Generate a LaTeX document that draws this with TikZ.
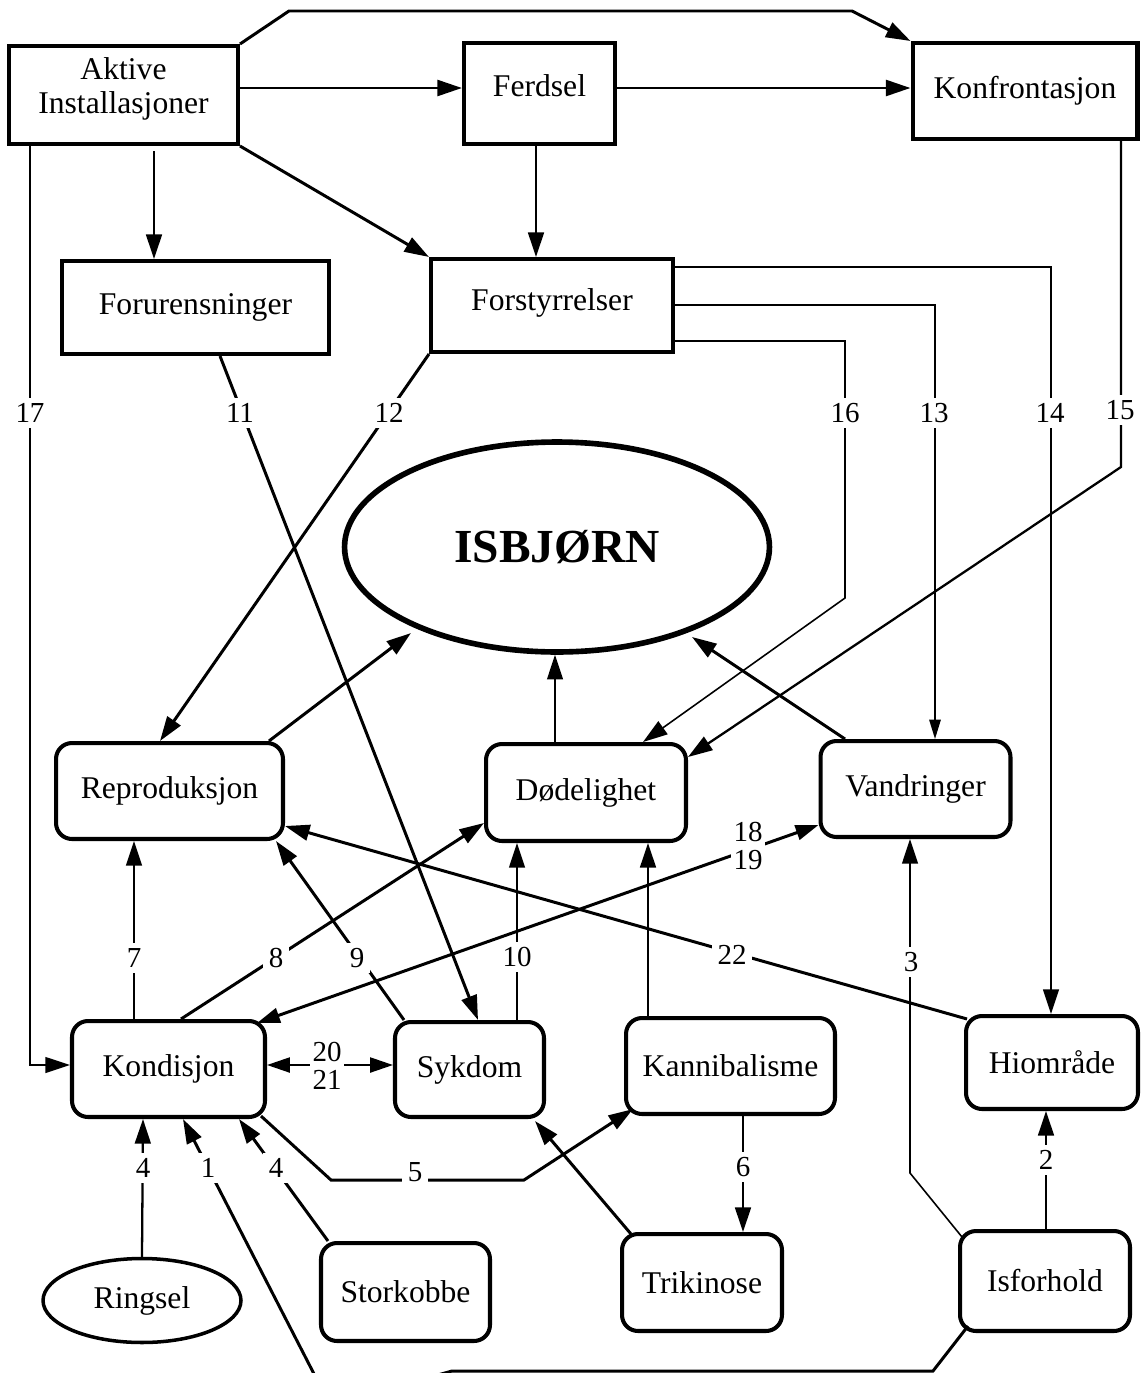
\documentclass[tikz,border=0pt]{standalone}
\usepackage{fontspec}
\setmainfont{Liberation Serif}
\usetikzlibrary{arrows.meta,calc,shapes.geometric}

\begin{document}
\begin{tikzpicture}[x=0.02cm,y=-0.02cm,
  box/.style={draw,line width=2.3pt,inner sep=2pt,align=center,
              font=\fontsize{18}{19}\selectfont},
  rbox/.style={box,rounded corners=0.32cm},
  thk/.style={line width=1.7pt},
  med/.style={line width=1.3pt},
  thn/.style={line width=0.9pt},
  arr/.style={-{Triangle[length=14pt,width=9pt]}},
  sarr/.style={-{Triangle[length=11pt,width=6.5pt]}},
  darr/.style={{Triangle[length=13pt,width=8.5pt]}-{Triangle[length=13pt,width=8.5pt]}},
  lbl/.style={fill=white,inner sep=3pt,align=center,
              font=\fontsize{16.5}{16}\selectfont},
  pair/.style={fill=white,inner sep=1.5pt,align=center,
              font=\fontsize{16.5}{16}\selectfont},
]
\useasboundingbox (0,0) rectangle (1142,1373);
\clip (0,0) rectangle (1142,1373);

% ---- upper row: sources of disturbance
\node[box,minimum width=4.58cm,minimum height=1.96cm,text depth=0.38cm] (akt) at (123.5,95) {Aktive\\Installasjoner};
\node[box,minimum width=3.02cm,minimum height=2.02cm,text depth=0.3cm] (ferd) at (539.5,93.5) {Ferdsel};
\node[box,minimum width=4.5cm,minimum height=1.92cm] (konf) at (1025,91) {Konfrontasjon};
\node[box,minimum width=5.34cm,minimum height=1.86cm] (foru) at (195.5,307.5) {Forurensninger};
\node[box,minimum width=4.84cm,minimum height=1.86cm,text depth=0.25cm] (fors) at (552,305.5) {Forstyrrelser};

% ---- the population
\node[draw,ellipse,line width=3.2pt,inner sep=0pt,minimum width=8.5cm,minimum height=4.2cm,
      font=\fontsize{27}{30}\selectfont\bfseries] (isb) at (557,547) {ISBJØRN};

% ---- population parameters
\node[rbox,minimum width=4.54cm,minimum height=1.92cm] (repr) at (169.5,791) {Reproduksjon};
\node[rbox,minimum width=4.0cm,minimum height=1.94cm] (dode) at (586,792.5) {Dødelighet};
\node[rbox,minimum width=3.8cm,minimum height=1.92cm] (vand) at (915.5,789) {Vandringer};

% ---- factors
\node[rbox,minimum width=3.86cm,minimum height=1.92cm] (kond) at (168.5,1069) {Kondisjon};
\node[rbox,minimum width=2.98cm,minimum height=1.9cm] (sykd) at (469.5,1069.5) {Sykdom};
\node[rbox,minimum width=4.18cm,minimum height=1.92cm] (kann) at (730.5,1066) {Kannibalisme};
\node[rbox,minimum width=3.44cm,minimum height=1.86cm] (hiom) at (1052,1062.5) {Hiområde};

% ---- bottom row
\node[draw,ellipse,line width=2pt,inner sep=0pt,minimum width=3.96cm,minimum height=1.68cm,
      font=\fontsize{18}{19}\selectfont] (ring) at (142,1300.5) {Ringsel};
\node[rbox,minimum width=3.38cm,minimum height=1.96cm] (stor) at (405.5,1292) {Storkobbe};
\node[rbox,minimum width=3.2cm,minimum height=1.94cm] (trik) at (702,1282.5) {Trikinose};
\node[rbox,minimum width=3.4cm,minimum height=2.0cm] (isfo) at (1045,1281) {Isforhold};

% ---- top connections
\draw[thk,arr] (akt.east |- 0,88) -- (ferd.west |- 0,88);
\draw[thk,arr] (ferd.east |- 0,88) -- (konf.west |- 0,88);
\draw[thk,arr] (akt.north east) -- (289,11) -- (852,11) -- (konf.north west);
\draw[med,arr,shorten <=3pt] (akt.south -| 154,0) -- (foru.north -| 154,0);
\draw[thk,arr] (akt.south east) -- (fors.north west);
\draw[med,arr] (ferd.south -| 536,0) -- (fors.north -| 536,0);

% ---- numbered links from the disturbances
\draw[thn,arr] (akt.south -| 30,0) -- (30,1065) -- (kond.west |- 0,1065);
\draw[thk,arr] (foru.south -| 220,0) -- (sykd.north -| 478,0);
\draw[thk,arr] (fors.south west) -- (repr.north -| 160,0);
\draw[thn,arr] (fors.east |- 0,341) -- (845,341) -- (845,598) -- (dode.north -| 643,0);
\draw[thn,sarr] (fors.east |- 0,305) -- (935,305) -- (vand.north -| 935,0);
\draw[thn,arr] (fors.east |- 0,267) -- (1051,267) -- (hiom.north -| 1051,0);
\draw[med,arr] (konf.south -| 1121,0) -- (1121,467) -- (dode.east |- 0,757);

% ---- parameters into the population
\draw[thk,arr] (repr.north -| 269,0) -- ($(isb.center)+(-146,86)$);
\draw[thn,arr] (dode.north -| 555,0) -- (isb.south -| 555,0);
\draw[thk,arr] (vand.north -| 845,0) -- ($(isb.center)+(135,90)$);

% ---- factors into the parameters
\draw[thn,arr] (kond.north -| 134,0) -- (repr.south -| 134,0);
\draw[thk,arr] (kond.north -| 181,0) -- (dode.west |- 0,823);
\draw[thk,arr] (sykd.north -| 404,0) -- (repr.south -| 276,0);
\draw[thn,arr] (sykd.north -| 517,0) -- (dode.south -| 517,0);
\draw[med,arr] (kann.north -| 648,0) -- (dode.south -| 648,0);
\draw[thk,darr] ($(kond.north east)+(-10,4)$) -- (vand.west |- 0,825);
\draw[thk,arr] ($(hiom.north west)+(3,5)$) -- (repr.east |- 0,826);
\draw[thn,arr] ($(isfo.north west)+(4,8)$) -- (910,1173) -- (vand.south -| 910,0);

% ---- links among the factors
\draw[med,arr] (isfo.north -| 1046,0) -- (hiom.south -| 1046,0);
\draw[med,arr] (kann.south -| 743,0) -- (trik.north -| 743,0);
\draw[thk,arr] ($(kond.south east)+(-6,-3)$) -- (331,1180) -- (524,1180) -- ($(kann.south west)+(9,-7)$);
\draw[thk,arr] ($(trik.north west)+(11,2)$) -- ($(sykd.south east)+(-11,2)$);
\draw[med,arr] (ring.north) -- (kond.south -| 143,0);
\draw[thk,arr] ($(stor.north west)+(9,0)$) -- (kond.south -| 239,0);
\draw[thk,arr] ($(isfo.south west)+(10,-7)$) -- (933,1371) -- (452,1371) -- (330,1405) -- (kond.south -| 183,0);
\draw[med,darr] (kond.east |- 0,1065) -- (sykd.west |- 0,1065);

% ---- link numbers
\node[lbl] (l17) at (30,413) {17};
\node[lbl] (l11) at (240,413) {11};
\node[lbl] (l12) at (389,413) {12};
\node[lbl] (l16) at (845,413) {16};
\node[lbl] (l13) at (934,413) {13};
\node[lbl] (l14) at (1050,413) {14};
\node[lbl] (l15) at (1120,410) {15};
\node[lbl] (l7) at (134,958) {7};
\node[lbl] (l8) at (276,958) {8};
\node[lbl] (l9) at (357,958) {9};
\node[lbl] (l10) at (517,957) {10};
\node[lbl] (l22) at (732,955) {22};
\node[lbl] (l3) at (911,962) {3};
\node[pair] (l1819) at (748,846) {18\\19};
\node[pair] (l2021) at (327,1066) {20\\21};
\node[lbl] (l4a) at (143,1168) {4};
\node[lbl] (l1) at (208,1168) {1};
\node[lbl] (l4b) at (276,1168) {4};
\node[lbl] (l5) at (415,1172) {5};
\node[lbl] (l6) at (743,1167) {6};
\node[lbl] (l2) at (1046,1160) {2};
\end{tikzpicture}
\end{document}
